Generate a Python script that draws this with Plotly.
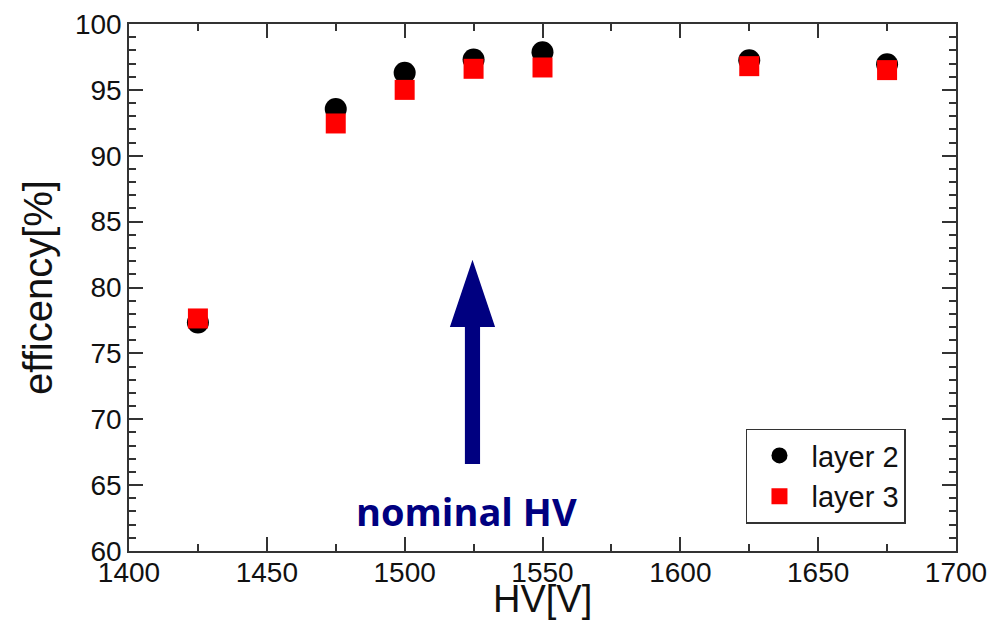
import plotly.graph_objects as go

# ---- data ----
hv = [1425, 1475, 1500, 1525, 1550, 1625, 1675]
layer2 = [77.35, 93.55, 96.3, 97.3, 97.85, 97.25, 96.95]
layer3 = [77.65, 92.45, 95.0, 96.6, 96.7, 96.8, 96.5]
series_names = ["layer 2", "layer 3"]

x_ticks = [1400, 1450, 1500, 1550, 1600, 1650, 1700]
y_ticks = [60, 65, 70, 75, 80, 85, 90, 95, 100]

# nominal HV arrow (data coordinates)
ARROW_X = 1524.6
ARROW_TIP = 82.1
ARROW_HEAD_BASE = 77.0
ARROW_BOTTOM = 66.6
SHAFT_HALF = 2.75
HEAD_HALF = 8.2
NAVY = "#000080"
FONT = "Liberation Sans, Arial, sans-serif"

fig = go.Figure()
fig.add_trace(go.Scatter(
    x=hv, y=layer2, mode="markers", name=series_names[0],
    marker=dict(symbol="circle", size=22, color="black"),
))
fig.add_trace(go.Scatter(
    x=hv, y=layer3, mode="markers", name=series_names[1],
    marker=dict(symbol="square", size=20, color="#ff0000"),
))

path = (
    f"M {ARROW_X - SHAFT_HALF},{ARROW_BOTTOM} "
    f"L {ARROW_X - SHAFT_HALF},{ARROW_HEAD_BASE} "
    f"L {ARROW_X - HEAD_HALF},{ARROW_HEAD_BASE} "
    f"L {ARROW_X},{ARROW_TIP} "
    f"L {ARROW_X + HEAD_HALF},{ARROW_HEAD_BASE} "
    f"L {ARROW_X + SHAFT_HALF},{ARROW_HEAD_BASE} "
    f"L {ARROW_X + SHAFT_HALF},{ARROW_BOTTOM} Z"
)
fig.add_shape(type="path", path=path, xref="x", yref="y",
              fillcolor=NAVY, line=dict(width=0), layer="above")

fig.add_annotation(
    x=1522.5, y=63.05, xref="x", yref="y", text="<b>nominal HV</b>",
    showarrow=False, xanchor="center", yanchor="middle",
    font=dict(family="Open Sans", size=38, color=NAVY),
)

# x-axis title as a paper annotation for precise placement
fig.add_annotation(
    x=0.5, y=-0.135, xref="paper", yref="paper", text="HV[V]",
    showarrow=False, xanchor="center", yanchor="bottom",
    font=dict(family=FONT, size=38, color="#111111"),
)

axis_common = dict(
    showgrid=False, zeroline=False, automargin=False,
    showline=True, linecolor="#333333", linewidth=1.5,
    mirror="ticks", ticks="inside", ticklen=14, tickwidth=1.5, tickcolor="#333333",
    tickfont=dict(family=FONT, size=28, color="#111111"),
)

fig.update_xaxes(
    range=[1400, 1700], tickvals=x_ticks, ticktext=[str(v) for v in x_ticks],
    minor=dict(ticks="inside", ticklen=7, tickwidth=1.5, tickcolor="#333333", dtick=25, tick0=1400),
    ticklabelstandoff=-4,
    **axis_common,
)
fig.update_yaxes(
    range=[60, 100], tickvals=y_ticks, ticktext=[str(v) for v in y_ticks],
    minor=dict(ticks="inside", ticklen=7, tickwidth=1.5, tickcolor="#333333", dtick=1, tick0=60),
    title=dict(text="efficency[%]", font=dict(family=FONT, size=40, color="#111111"), standoff=10),
    **axis_common,
)

fig.update_layout(
    width=998, height=626,
    margin=dict(l=129, r=42, t=24, b=75),
    paper_bgcolor="white", plot_bgcolor="white",
    showlegend=True,
    legend=dict(
        x=0.9395, y=0.052, xanchor="right", yanchor="bottom",
        bgcolor="white", bordercolor="#333333", borderwidth=1.5,
        font=dict(family=FONT, size=29, color="#111111"),
        itemwidth=54, itemsizing="trace", tracegroupgap=0,
    ),
)

fig.write_html("out.html")
